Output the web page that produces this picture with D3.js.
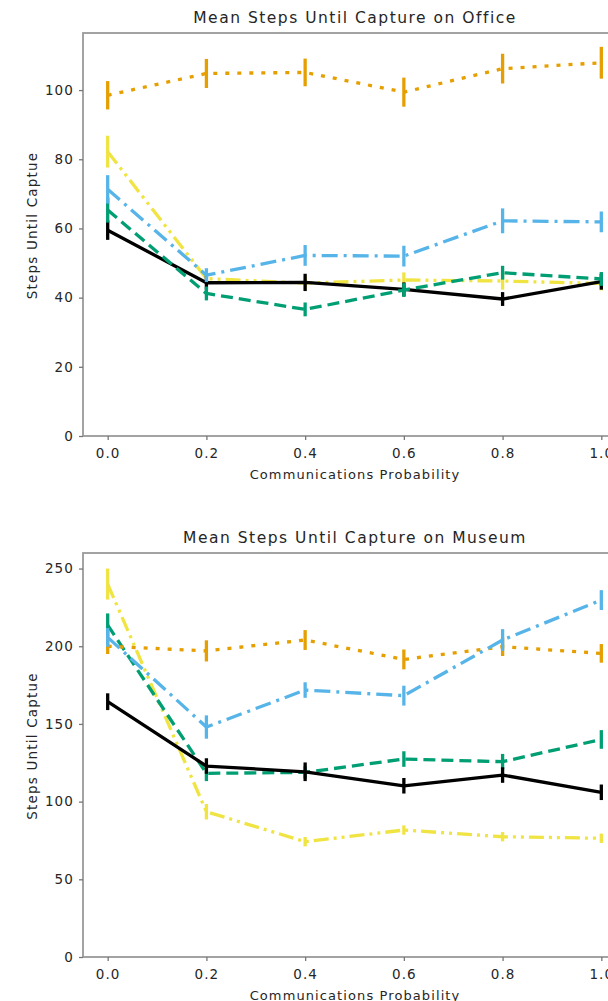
<!DOCTYPE html>
<html>
<head>
<meta charset="utf-8">
<script src="https://cdn.jsdelivr.net/npm/d3@7"></script>
<style>
  body { margin: 0; background: #fff; }
  text { font-family: "DejaVu Sans", sans-serif; fill: #262626; }
</style>
</head>
<body>
<div id="chart"></div>
<script>
// communication probabilities (x axis)
const probs = [0.0, 0.2, 0.4, 0.6, 0.8, 1.0]

// Office map: mean steps and error half-widths
const officeOrange = [98.5, 104.8, 105.1, 99.4, 106.2, 107.9]
const officeOrangeErr = [4.1, 4.2, 4.0, 4.2, 4.3, 4.6]
const officeYellow = [82.2, 45.5, 44.2, 45.1, 44.8, 44.1]
const officeYellowErr = [4.6, 1.8, 2.0, 2.2, 2.5, 2.0]
const officeBlue = [71.3, 46.5, 52.2, 52.0, 62.2, 61.9]
const officeBlueErr = [4.1, 2.0, 3.0, 3.0, 3.6, 3.0]
const officeGreen = [65.3, 41.2, 36.6, 42.2, 47.2, 45.4]
const officeGreenErr = [3.6, 2.0, 2.0, 2.0, 2.0, 2.0]
const officeBlack = [59.5, 44.3, 44.4, 42.4, 39.6, 44.6]
const officeBlackErr = [2.8, 2.0, 2.5, 2.0, 2.0, 2.3]

// Museum map
const museumOrange = [200.0, 197.0, 204.0, 191.5, 199.7, 195.4]
const museumOrangeErr = [5.0, 6.8, 6.4, 6.4, 6.0, 6.0]
const museumYellow = [240.0, 93.5, 74.2, 81.7, 77.4, 76.4]
const museumYellowErr = [10.0, 5.0, 3.0, 3.0, 3.0, 3.0]
const museumBlue = [205.7, 148.0, 171.8, 168.2, 204.0, 229.7]
const museumBlueErr = [6.0, 7.5, 5.0, 6.4, 7.0, 6.4]
const museumGreen = [213.6, 118.2, 118.8, 127.4, 125.7, 140.0]
const museumGreenErr = [7.5, 5.0, 4.0, 5.0, 5.0, 6.0]
const museumBlack = [164.3, 122.9, 119.2, 110.2, 117.1, 106.0]
const museumBlackErr = [5.4, 5.0, 6.0, 5.0, 5.0, 5.0]

const officeTicks = [0, 20, 40, 60, 80, 100]
const museumTicks = [0, 50, 100, 150, 200, 250]

//styles for each series
const styles = {
    yellow: {color: "#F0E442", dash: "15,5,3,5,3,5"},
    green: {color: "#009E73", dash: "12,6"},
    blue: {color: "#56B4E9", dash: "16,6,3,6"},
    orange: {color: "#E69F00", dash: "4,8"},
    black: {color: "#000000", dash: null},
}

const width = 608, height = 1001

const svg = d3.select("#chart").append("svg")
    .attr("width", width)
    .attr("height", height)

function drawPanel(cfg){
    const x = d3.scaleLinear().domain([-0.05, 1.05]).range([83, 626])
    const y = d3.scaleLinear().domain([0, cfg.ymax]).range([cfg.bottom, cfg.top])

    const g = svg.append("g")

    //frame
    g.append("rect")
        .attr("x", x.range()[0]).attr("y", cfg.top)
        .attr("width", x.range()[1] - x.range()[0])
        .attr("height", cfg.bottom - cfg.top)
        .attr("fill", "none").attr("stroke", "#9a9a9a").attr("stroke-width", 1.8)

    //axes
    const xAxis = d3.axisBottom(x).tickValues(probs).tickFormat(d3.format(".1f")).tickSize(4).tickPadding(8)
    const gx = g.append("g").attr("transform", `translate(0,${cfg.bottom})`).call(xAxis)
    const yAxis = d3.axisLeft(y).tickValues(cfg.ticks).tickSize(4).tickPadding(5)
    const gy = g.append("g").attr("transform", `translate(${x.range()[0]},0)`).call(yAxis)
    ;[gx, gy].forEach(a => {
        a.select(".domain").remove()
        a.selectAll("line").attr("stroke", "#777").attr("stroke-width", 1.3)
        a.selectAll("text").attr("font-size", 13.5).style("letter-spacing", "1.1px").attr("fill", "#333")
    })

    //title and labels
    g.append("text")
        .attr("x", 355).attr("y", cfg.top - 10)
        .attr("text-anchor", "middle")
        .attr("font-size", 15.5)
        .style("letter-spacing", "1.5px")
        .text(cfg.title)

    g.append("text")
        .attr("x", 355).attr("y", cfg.bottom + 43)
        .attr("text-anchor", "middle")
        .attr("font-size", 13)
        .style("letter-spacing", "1.1px")
        .text("Communications Probability")

    g.append("text")
        .attr("transform", `translate(37,${(cfg.top + cfg.bottom) / 2 - 9}) rotate(-90)`)
        .attr("text-anchor", "middle")
        .attr("font-size", 13.5)
        .style("letter-spacing", "1.2px")
        .text("Steps Until Captue")

    const line = d3.line().x((d, i) => x(probs[i])).y(d => y(d))

    cfg.series.forEach(s => {
        const st = styles[s.key]
        g.append("path")
            .datum(s.values)
            .attr("d", line)
            .attr("fill", "none")
            .attr("stroke", st.color)
            .attr("stroke-width", 3.3)
            .attr("stroke-dasharray", st.dash)
            .attr("stroke-linejoin", "round")
        g.selectAll(null)
            .data(s.values)
            .enter().append("line")
            .attr("x1", (d, i) => x(probs[i]))
            .attr("x2", (d, i) => x(probs[i]))
            .attr("y1", (d, i) => y(d - s.err[i]))
            .attr("y2", (d, i) => y(d + s.err[i]))
            .attr("stroke", st.color)
            .attr("stroke-width", 3.3)
    })
}

drawPanel({
    title: "Mean Steps Until Capture on Office",
    top: 33, bottom: 436, ymax: 116.5, ticks: officeTicks,
    series: [
        {key: "yellow", values: officeYellow, err: officeYellowErr},
        {key: "black", values: officeBlack, err: officeBlackErr},
        {key: "green", values: officeGreen, err: officeGreenErr},
        {key: "blue", values: officeBlue, err: officeBlueErr},
        {key: "orange", values: officeOrange, err: officeOrangeErr},
    ]
})

drawPanel({
    title: "Mean Steps Until Capture on Museum",
    top: 553, bottom: 957, ymax: 260, ticks: museumTicks,
    series: [
        {key: "yellow", values: museumYellow, err: museumYellowErr},
        {key: "green", values: museumGreen, err: museumGreenErr},
        {key: "black", values: museumBlack, err: museumBlackErr},
        {key: "orange", values: museumOrange, err: museumOrangeErr},
        {key: "blue", values: museumBlue, err: museumBlueErr},
    ]
})
</script>
</body>
</html>
